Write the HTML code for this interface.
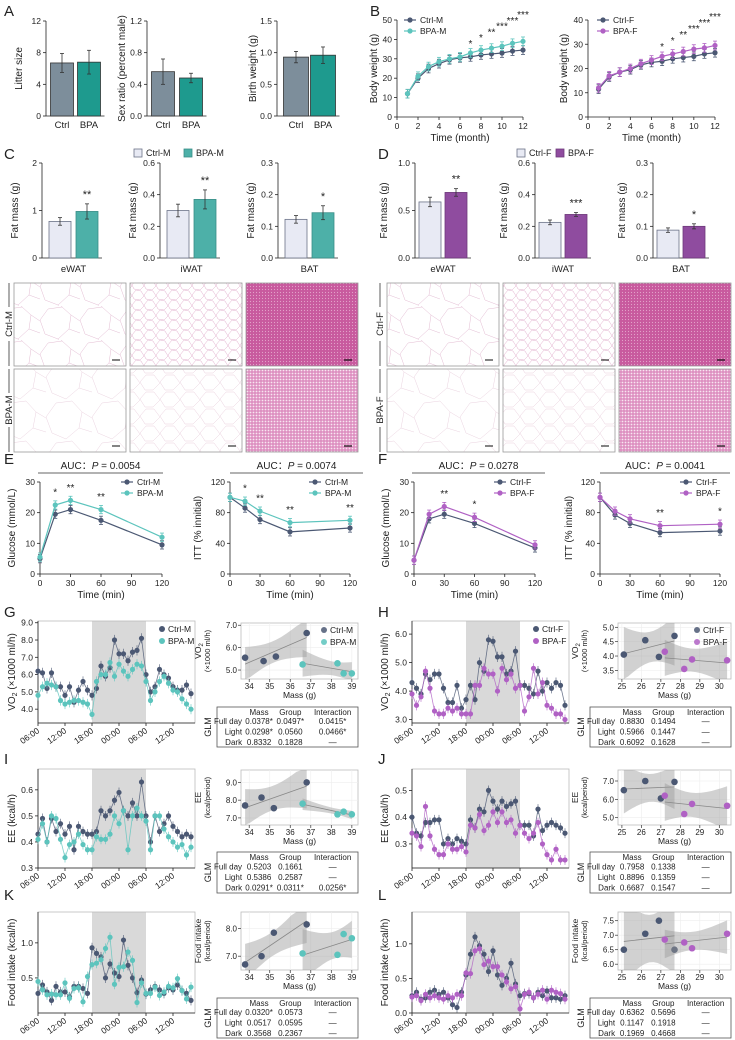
<!DOCTYPE html>
<html><head><meta charset="utf-8"><title>BPA figure</title>
<style>
html,body{margin:0;padding:0;background:#fff;}
svg{display:block;font-family:"Liberation Sans",Arial,sans-serif;}
</style></head>
<body>
<svg id="fig" width="735" height="1040" viewBox="0 0 735 1040" xmlns="http://www.w3.org/2000/svg">
<defs>
<pattern id="watA" width="40" height="34" patternUnits="userSpaceOnUse"><rect width="40" height="34" fill="#fff"/><path d="M0 14 L8 3 L22 1 L31 9 L40 15 M31 9 L29 23 L18 33 L5 28 L0 14 M29 23 L40 27 M22 1 L21 -2 M18 33 L19 36" fill="none" stroke="#e3bcd3" stroke-width="0.5"/></pattern>
<pattern id="watB" width="46" height="40" patternUnits="userSpaceOnUse"><rect width="46" height="40" fill="#fff"/><path d="M0 17 L10 3 L26 1 L36 12 L46 18 M36 12 L33 28 L20 39 L6 33 L0 17 M33 28 L46 32" fill="none" stroke="#ebd3e0" stroke-width="0.5"/></pattern>
<pattern id="iwatA" width="12" height="10" patternUnits="userSpaceOnUse"><rect width="12" height="10" fill="#fff"/><path d="M0 5 L4 0 L9 1 L12 6 L8 10 L2 9 Z" fill="none" stroke="#e2b0cd" stroke-width="0.5"/></pattern>
<pattern id="iwatB" width="20" height="17" patternUnits="userSpaceOnUse"><rect width="20" height="17" fill="#fff"/><path d="M0 8 L6 1 L14 1 L20 9 L13 16 L5 16 Z" fill="none" stroke="#ead0de" stroke-width="0.5"/></pattern>
<pattern id="batA" width="3" height="3" patternUnits="userSpaceOnUse"><rect width="3" height="3" fill="#c85a9e"/><circle cx="1.5" cy="1.5" r="0.6" fill="#e3a2c9"/></pattern>
<pattern id="batB" width="3" height="3" patternUnits="userSpaceOnUse"><rect width="3" height="3" fill="#dd8fc0"/><circle cx="1.5" cy="1.5" r="0.9" fill="#f8e6f1"/></pattern>
</defs>
</svg>
<script>
// ---------------- DATA ----------------
const A_cats=['Ctrl','BPA'];
const A1_vals=[6.7,6.8], A1_err=[1.2,1.5];
const A2_vals=[0.56,0.48], A2_err=[0.16,0.06];
const A3_vals=[0.93,0.96], A3_err=[0.09,0.13];
const B_months=[1,2,3,4,5,6,7,8,9,10,11,12];
const B1_ctrl=[12,20,25,27.5,29.5,30.5,31,32,32.5,33,34,34.5];
const B1_bpa=[12,21,26,28.5,30,31,33,34.5,35.5,36.5,38,39];
const B2_ctrl=[11.5,16.5,18.5,19.5,21.5,22.5,23,24,24.5,25,26,26.5];
const B2_bpa=[12,17,18.5,20,22,23.5,25,26,27,28,28.5,29.5];
const B_stars=['*','*','**','***','***','***'];
const C_vals=[[0.77,0.98],[0.30,0.37],[0.122,0.143]];
const C_err=[[0.08,0.16],[0.04,0.06],[0.012,0.022]];
const D_vals=[[0.59,0.69],[0.225,0.275],[0.088,0.10]];
const D_err=[[0.05,0.04],[0.015,0.012],[0.007,0.008]];
const C_stars=['**','**','*'], D_stars=['**','***','*'];
const fat_labels=['eWAT','iWAT','BAT'];
const E_times=[0,15,30,60,120];
const E1_ctrl=[5,19.5,21,17.5,9.5], E1_bpa=[5.5,22.5,24,21,12];
const E2_ctrl=[100,86,71,55,60], E2_bpa=[100,95,82,67,70];
const F1_ctrl=[4.5,18,19.5,16.5,8.5], F1_bpa=[4.5,19.5,22,18.5,9.5];
const F2_ctrl=[100,77,66,54,56], F2_bpa=[100,82,72,63,65];
const E1_stars=['','*','**','**',''], E2_stars=['','*','**','**','**'];
const F1_stars=['','','**','*',''], F2_stars=['','','','**','*'];
const auc_labels=['0.0054','0.0074','0.0278','0.0041'];
const ts_labels=['06:00','12:00','18:00','00:00','06:00','12:00'];
const G_ctrl=[6.2,6.1,5.2,6.1,5.3,5.3,4.8,5.3,4.4,5.1,5.6,5.1,4.8,5.2,6.5,5.9,6.4,8.0,7.2,7.2,6.8,7.3,7.4,8.1,6.0,5.0,5.3,6.3,6.0,5.8,5.3,5.1,5.1,5.4,4.9];
const G_bpa=[4.8,5.3,5.5,5.4,5.3,4.5,4.3,4.4,4.5,4.5,4.4,4.3,3.7,5.6,6.0,6.0,6.7,5.9,6.6,6.2,5.9,6.3,6.6,6.5,5.6,4.5,5.0,5.6,5.9,5.5,5.1,5.0,4.6,4.3,4.0];
const H_ctrl=[4.3,4.1,3.9,4.6,4.4,4.6,4.6,4.1,3.6,3.6,4.2,3.4,3.7,4.2,3.7,5.0,4.7,5.8,5.75,5.2,5.2,4.6,4.7,5.4,4.2,4.2,4.1,3.9,4.7,4.0,4.3,4.1,4.3,4.2,3.5];
const H_bpa=[3.9,3.5,3.8,4.7,4.1,3.3,3.2,3.2,3.4,3.3,3.4,3.2,3.2,3.2,4.2,4.2,4.8,4.6,4.6,4.0,4.8,4.4,4.6,4.1,4.2,3.3,3.8,4.8,3.9,4.3,3.5,3.4,3.2,3.2,3.0];
const I_ctrl=[0.43,0.49,0.40,0.49,0.44,0.47,0.43,0.46,0.37,0.46,0.44,0.43,0.43,0.44,0.52,0.50,0.52,0.56,0.59,0.52,0.50,0.55,0.50,0.63,0.50,0.40,0.50,0.44,0.47,0.50,0.46,0.44,0.42,0.43,0.42];
const I_bpa=[0.41,0.47,0.40,0.50,0.49,0.41,0.34,0.39,0.40,0.43,0.39,0.37,0.37,0.42,0.41,0.41,0.43,0.50,0.47,0.52,0.37,0.50,0.53,0.50,0.48,0.37,0.50,0.50,0.45,0.42,0.40,0.38,0.39,0.35,0.38];
const J_ctrl=[0.40,0.34,0.33,0.38,0.38,0.39,0.39,0.30,0.32,0.30,0.32,0.31,0.30,0.39,0.36,0.43,0.42,0.50,0.46,0.43,0.46,0.44,0.45,0.46,0.37,0.37,0.37,0.33,0.43,0.35,0.37,0.38,0.37,0.36,0.34];
const J_bpa=[0.34,0.33,0.29,0.44,0.33,0.28,0.26,0.26,0.30,0.28,0.28,0.29,0.27,0.37,0.36,0.41,0.35,0.37,0.42,0.38,0.42,0.38,0.39,0.34,0.37,0.34,0.32,0.34,0.38,0.30,0.26,0.24,0.28,0.24,0.24];
const K_ctrl=[0.28,0.40,0.30,0.18,0.38,0.30,0.30,0.23,0.38,0.38,0.35,0.28,0.93,0.85,0.80,0.50,0.70,0.57,0.52,1.04,0.68,0.50,0.29,0.47,0.27,0.33,0.38,0.33,0.28,0.36,0.33,0.40,0.32,0.28,0.18];
const K_bpa=[0.45,0.33,0.26,0.27,0.26,0.26,0.43,0.21,0.35,0.36,0.16,0.52,0.69,0.71,0.76,0.92,1.08,0.41,0.65,0.66,0.87,0.75,0.15,0.43,0.28,0.28,0.37,0.25,0.30,0.38,0.36,0.49,0.32,0.20,0.37];
const L_ctrl=[0.25,0.30,0.20,0.22,0.30,0.33,0.27,0.30,0.22,0.12,0.08,0.30,0.55,0.85,1.10,0.97,0.85,0.60,0.90,0.55,0.40,0.50,0.72,0.42,0.25,0.28,0.28,0.22,0.30,0.25,0.32,0.22,0.22,0.20,0.25];
const L_bpa=[0.23,0.25,0.18,0.27,0.22,0.25,0.22,0.20,0.25,0.22,0.27,0.25,0.58,0.57,0.90,0.93,0.70,0.75,0.67,0.67,0.55,0.45,0.35,0.38,0.06,0.27,0.30,0.22,0.27,0.33,0.20,0.33,0.30,0.28,0.20];
const SG_cx=[33.8,34.7,35.3,36.8], SG_cy=[5.55,5.4,5.6,6.65], SG_bx=[36.6,38.3,38.6,39.0], SG_by=[5.25,5.3,4.85,4.85];
const SH_cx=[25.1,26.2,26.9,27.7], SH_cy=[4.05,4.55,3.97,4.7], SH_bx=[27.2,28.2,28.6,30.4], SH_by=[4.15,3.55,3.88,3.85];
const SI_cx=[33.8,34.6,35.2,36.8], SI_cy=[7.7,8.15,7.55,9.0], SI_bx=[36.6,38.3,38.6,39.0], SI_by=[7.8,7.2,7.35,7.2];
const SJ_cx=[25.1,26.2,27.0,27.7], SJ_cy=[6.5,7.0,6.05,6.95], SJ_bx=[27.2,28.2,28.6,30.4], SJ_by=[6.2,5.2,5.75,5.65];
const SK_cx=[33.8,34.6,35.2,36.8], SK_cy=[6.7,7.0,7.85,8.15], SK_bx=[36.6,38.3,38.6,39.0], SK_by=[7.1,7.05,7.8,7.65];
const SL_cx=[25.1,26.2,26.9,27.7], SL_cy=[6.5,7.05,7.5,6.5], SL_bx=[27.2,28.2,28.6,30.4], SL_by=[6.85,6.75,6.55,7.05];
const TG=[['Full day','0.0378*','0.0497*','0.0415*'],['Light','0.0298*','0.0560','0.0466*'],['Dark','0.8332','0.1828','—']];
const TH=[['Full day','0.8830','0.1494','—'],['Light','0.5966','0.1447','—'],['Dark','0.6092','0.1628','—']];
const TI=[['Full day','0.5203','0.1661','—'],['Light','0.5386','0.2587','—'],['Dark','0.0291*','0.0311*','0.0256*']];
const TJ=[['Full day','0.7958','0.1338','—'],['Light','0.8896','0.1359','—'],['Dark','0.6687','0.1547','—']];
const TK=[['Full day','0.0320*','0.0573','—'],['Light','0.0517','0.0595','—'],['Dark','0.3568','0.2367','—']];
const TL=[['Full day','0.6362','0.5696','—'],['Light','0.1147','0.1918','—'],['Dark','0.1969','0.4668','—']];

// ---------------- HELPERS ----------------
const NS='http://www.w3.org/2000/svg';
const svg=document.getElementById('fig');
const CN='#4b5873', CM='#5cc4bd', CF='#b061c4';
function mk(tag,attrs,name){
  const el=document.createElementNS(NS,tag);
  for(const k in attrs) el.setAttribute(k,attrs[k]);
  
  
  svg.appendChild(el); return el;
}
function tx(x,y,s,size,anchor,name,rot,fill,weight){
  const a={x:x,y:y,'font-size':size,'text-anchor':anchor||'middle',fill:fill||'#222'};
  if(rot) a.transform='rotate('+rot+' '+x+' '+y+')';
  if(weight) a['font-weight']=weight;
  const t=mk('text',a,name); t.textContent=s; return t;
}
function ln(x1,y1,x2,y2,st,w,name){return mk('line',{x1:x1,y1:y1,x2:x2,y2:y2,stroke:st||'#222','stroke-width':w||0.8},name);}
function lin(d0,d1,r0,r1){return v=>r0+(v-d0)*(r1-r0)/(d1-d0);}
function letter(x,y,s){tx(x,y,s,15,'start','panel-label-'+s.toLowerCase());}
function yAxis(ax,ys,yT,yB,ticks,dec,name){
  ln(ax,yT,ax,yB,'#222',0.8,name+'-y-axis');
  ticks.forEach(t=>{const y=ys(t);ln(ax-3,y,ax,y,'#222',0.8,name+'-y-tick');
    tx(ax-5,y+3,t.toFixed(dec),8.5,'end',name+'-y-tick-label');});
}
function ebar(x,y1,y2,col,name){ln(x,y1,x,y2,col,0.8,name);ln(x-2,y1,x+2,y1,col,0.8,name+'-cap');ln(x-2,y2,x+2,y2,col,0.8,name+'-cap');}

// ---------------- BAR PANELS ----------------
function barPanel(p){
  const ys=lin(0,p.max,p.yB,p.yT);
  yAxis(p.ax,ys,p.yT,p.yB,p.ticks,p.dec,p.name);
  ln(p.ax,p.yB,p.cx[1]+p.w/2+4,p.yB,'#222',0.8,p.name+'-x-axis');
  p.vals.forEach((v,i)=>{
    mk('rect',{x:p.cx[i]-p.w/2,y:ys(v),width:p.w,height:p.yB-ys(v),fill:p.fills[i],stroke:p.strokes[i],'stroke-width':0.8},p.name+'-bar-'+i);
    ebar(p.cx[i],ys(v+p.err[i]),ys(Math.max(0,v-p.err[i])),'#333',p.name+'-error-bar');
    if(p.xl) tx(p.cx[i],p.yB+12,p.xl[i],9.5,'middle',p.name+'-x-label');
  });
  if(p.star) tx(p.cx[1],ys(p.vals[1]+p.err[1])-6,p.star,11,'middle',p.name+'-significance');
  if(p.cat) tx((p.cx[0]+p.cx[1])/2,p.yB+14,p.cat,9.5,'middle',p.name+'-category');
  tx(p.ylx,(p.yT+p.yB)/2,p.ylab,10,'middle',p.name+'-y-title',-90);
}
letter(4,16,'A');
barPanel({name:'litter',ax:46,yT:21,yB:116,max:12,ticks:[0,4,8,12],dec:0,vals:A1_vals,err:A1_err,cx:[62,89],w:23,fills:['#7d8e9b','#1e9a8e'],strokes:['#333','#333'],xl:A_cats,ylab:'Litter size',ylx:22});
barPanel({name:'sex-ratio',ax:147,yT:21,yB:116,max:1.2,ticks:[0,0.4,0.8,1.2],dec:1,vals:A2_vals,err:A2_err,cx:[163,191],w:23,fills:['#7d8e9b','#1e9a8e'],strokes:['#333','#333'],xl:A_cats,ylab:'Sex ratio (percent male)',ylx:125});
barPanel({name:'birth-weight',ax:277,yT:21,yB:116,max:1.5,ticks:[0,0.5,1.0,1.5],dec:1,vals:A3_vals,err:A3_err,cx:[296,323],w:25,fills:['#7d8e9b','#1e9a8e'],strokes:['#333','#333'],xl:A_cats,ylab:'Birth weight (g)',ylx:256});

letter(4,159,'C'); letter(378,159,'D');
function legBox(x,y,fill,stroke,label,name){mk('rect',{x:x,y:y-7,width:8,height:8,fill:fill,stroke:stroke,'stroke-width':0.8},name+'-swatch');tx(x+12,y,label,9,'start',name+'-text');}
legBox(134,156,'#e8eaf4','#6b7388','Ctrl-M','legend-ctrl-m'); legBox(184,156,'#4db0a8','#3a8f88','BPA-M','legend-bpa-m');
legBox(517,156,'#e8eaf4','#6b7388','Ctrl-F','legend-ctrl-f'); legBox(556,156,'#8f4c9f','#6e3a7b','BPA-F','legend-bpa-f');
const cMax=[2,0.6,0.3], cTicks=[[0,1,2],[0,0.2,0.4,0.6],[0,0.1,0.2,0.3]], cDec=[0,1,1];
const dMax=[1.0,0.6,0.3], dTicks=[[0,0.5,1.0],[0,0.2,0.4,0.6],[0,0.1,0.2,0.3]];
const cAx=[42,160,278], dAx=[415,535,653];
for(let i=0;i<3;i++){
  barPanel({name:'fat-m-'+fat_labels[i].toLowerCase(),ax:cAx[i],yT:163,yB:258,max:cMax[i],ticks:cTicks[i],dec:cDec[i],vals:C_vals[i],err:C_err[i],cx:[cAx[i]+18,cAx[i]+45],w:22,fills:['#e8eaf4','#4db0a8'],strokes:['#6b7388','#3a8f88'],star:C_stars[i],cat:fat_labels[i],ylab:'Fat mass (g)',ylx:cAx[i]-24});
  barPanel({name:'fat-f-'+fat_labels[i].toLowerCase(),ax:dAx[i],yT:163,yB:258,max:dMax[i],ticks:dTicks[i],dec:1,vals:D_vals[i],err:D_err[i],cx:[dAx[i]+15,dAx[i]+41],w:22,fills:['#e8eaf4','#8f4c9f'],strokes:['#6b7388','#6e3a7b'],star:D_stars[i],cat:fat_labels[i],ylab:'Fat mass (g)',ylx:dAx[i]-28});
}

// ---------------- LINE PANELS (B, E, F) ----------------
function linePanel(p){
  const xs=lin(p.x0,p.x1,p.ax,p.xr), ys=lin(0,p.max,p.yB,p.yT);
  yAxis(p.ax,ys,p.yT,p.yB,p.ticks,0,p.name);
  ln(p.ax,p.yB,p.xr,p.yB,'#222',0.8,p.name+'-x-axis');
  p.xticks.forEach(t=>{ln(xs(t),p.yB,xs(t),p.yB+3,'#222',0.8,p.name+'-x-tick');tx(xs(t),p.yB+12,String(t),8.5,'middle',p.name+'-x-tick-label');});
  tx((p.ax+p.xr)/2,p.yB+24,p.xlab,10,'middle',p.name+'-x-title');
  tx(p.ylx,(p.yT+p.yB)/2,p.ylab,10,'middle',p.name+'-y-title',-90);
  p.series.forEach((s,si)=>{
    const pts=s.v.map((v,i)=>xs(p.x[i])+','+ys(v)).join(' ');
    mk('polyline',{points:pts,fill:'none',stroke:s.c,'stroke-width':1.2},p.name+'-line-'+s.n);
    s.v.forEach((v,i)=>{const e=p.max*0.045;ebar(xs(p.x[i]),ys(v+e),ys(v-e),s.c,p.name+'-err');
      mk('circle',{cx:xs(p.x[i]),cy:ys(v),r:2.6,fill:s.c},p.name+'-point-'+s.n);});
    mk('line',{x1:p.lx,y1:p.ly+si*11,x2:p.lx+12,y2:p.ly+si*11,stroke:s.c,'stroke-width':1.2},p.name+'-legend-line');
    mk('circle',{cx:p.lx+6,cy:p.ly+si*11,r:2.6,fill:s.c},p.name+'-legend-marker');
    tx(p.lx+16,p.ly+si*11+3,s.n,8.5,'start',p.name+'-legend-text');
  });
  const top=p.series[1].v;
  p.stars.forEach((st,i)=>{ if(!st) return; const k=p.starY?p.starY(i):ys(Math.max(top[i],p.series[0].v[i])+p.max*0.06)-4;
    tx(xs(p.x[i]),k,st,10,'middle',p.name+'-significance');});
}
letter(370,16,'B');
const bStarIdx=[6,7,8,9,10,11];
linePanel({name:'bw-male',ax:397,xr:523,x0:0,x1:12,yT:20,yB:117,max:50,ticks:[0,10,20,30,40,50],xticks:[0,2,4,6,8,10,12],x:B_months,
  series:[{v:B1_ctrl,c:CN,n:'Ctrl-M'},{v:B1_bpa,c:CM,n:'BPA-M'}],stars:B1_ctrl.map((v,i)=>{const k=bStarIdx.indexOf(i);return k<0?'':B_stars[k];}),
  starY:i=>47-(i-6)*5.8,xlab:'Time (month)',ylab:'Body weight (g)',ylx:377,lx:404,ly:20});
linePanel({name:'bw-female',ax:588,xr:715,x0:0,x1:12,yT:20,yB:117,max:40,ticks:[0,10,20,30,40],xticks:[0,2,4,6,8,10,12],x:B_months,
  series:[{v:B2_ctrl,c:CN,n:'Ctrl-F'},{v:B2_bpa,c:CF,n:'BPA-F'}],stars:B2_ctrl.map((v,i)=>{const k=bStarIdx.indexOf(i);return k<0?'':B_stars[k];}),
  starY:i=>50-(i-6)*6,xlab:'Time (month)',ylab:'Body weight (g)',ylx:567,lx:597,ly:20});

// histology
letter(4,464,'E'); letter(378,464,'F');
const histX=[[14,130,246],[387,503,619]], histW=[112,112,112], histY=[283,369];
const histFill=[['url(#watA)','url(#iwatA)','url(#batA)'],['url(#watB)','url(#iwatB)','url(#batB)']];
const rowNames=[['Ctrl-M','BPA-M'],['Ctrl-F','BPA-F']];
for(let s=0;s<2;s++){
  for(let r=0;r<2;r++){
    for(let c=0;c<3;c++){
      const x=histX[s][c],y=histY[r];
      mk('rect',{x:x,y:y,width:histW[c],height:83,fill:histFill[r][c],stroke:'#999','stroke-width':0.8},'histology-'+rowNames[s][r].toLowerCase()+'-'+fat_labels[c].toLowerCase());
      ln(x+histW[c]-14,y+77,x+histW[c]-6,y+77,c==2?'#111':'#333',1.2,'scale-bar');
    }
    const lx=s==0?9:380, cy=histY[r]+41;
    tx(lx+3,cy,rowNames[s][r],9.5,'middle','row-label-'+rowNames[s][r].toLowerCase(),-90);
    ln(lx,histY[r],lx,cy-17,'#333',0.8,'row-bracket'); ln(lx,cy+17,lx,histY[r]+83,'#333',0.8,'row-bracket');
  }
}

// AUC headers
const aucX=[[38,163],[230,363],[412,545],[600,730]];
aucX.forEach((a,i)=>{ln(a[0],473,a[1],473,'#333',0.8,'auc-underline');
  const t=tx((a[0]+a[1])/2,469,'',10,'middle','auc-label');
  t.innerHTML='AUC：<tspan font-style="italic">P</tspan> = '+auc_labels[i];});
const eCommon={x0:0,x1:120,yT:482,yB:574,xticks:[0,30,60,90,120],x:E_times,xlab:'Time (min)'};
linePanel(Object.assign({},eCommon,{name:'gtt-male',ax:40,xr:162,max:30,ticks:[0,10,20,30],series:[{v:E1_ctrl,c:CN,n:'Ctrl-M'},{v:E1_bpa,c:CM,n:'BPA-M'}],stars:E1_stars,ylab:'Glucose (mmol/L)',ylx:15,lx:121,ly:482}));
linePanel(Object.assign({},eCommon,{name:'itt-male',ax:230,xr:350,max:120,ticks:[0,40,80,120],series:[{v:E2_ctrl,c:CN,n:'Ctrl-M'},{v:E2_bpa,c:CM,n:'BPA-M'}],stars:E2_stars,ylab:'ITT (% innitial)',ylx:201,lx:309,ly:482}));
linePanel(Object.assign({},eCommon,{name:'gtt-female',ax:414,xr:535,max:30,ticks:[0,10,20,30],series:[{v:F1_ctrl,c:CN,n:'Ctrl-F'},{v:F1_bpa,c:CF,n:'BPA-F'}],stars:F1_stars,ylab:'Glucose (mmol/L)',ylx:389,lx:494,ly:482}));
linePanel(Object.assign({},eCommon,{name:'itt-female',ax:600,xr:720,max:120,ticks:[0,40,80,120],series:[{v:F2_ctrl,c:CN,n:'Ctrl-F'},{v:F2_bpa,c:CF,n:'BPA-F'}],stars:F2_stars,ylab:'ITT (% innitial)',ylx:572,lx:680,ly:482}));

// ---------------- TIME SERIES ----------------
function tsPanel(p){
  const xs=i=>p.ax+i*4.5, ys=lin(p.d0,p.d1,p.yB,p.yT), right=p.ax+157;
  mk('rect',{x:xs(12),y:p.yT,width:xs(24)-xs(12),height:p.yB-p.yT,fill:'#d9d9d9'},p.name+'-dark-period');
  mk('rect',{x:p.ax,y:p.yT,width:right-p.ax,height:p.yB-p.yT,fill:'none',stroke:'#bbb','stroke-width':0.8},p.name+'-frame');
  yAxis(p.ax,ys,p.yT,p.yB,p.ticks,p.dec,p.name);
  ln(p.ax,p.yB,right,p.yB,'#222',0.8,p.name+'-x-axis');
  ts_labels.forEach((l,k)=>{const x=xs(k*6);ln(x,p.yB,x,p.yB+3,'#222',0.8,p.name+'-x-tick');
    tx(x+2,p.yB+9,l,8.5,'end',p.name+'-x-tick-label',-35);});
  const t=tx(p.ylx,(p.yT+p.yB)/2,'',10,'middle',p.name+'-y-title',-90); t.innerHTML=p.ylab;
  const e=(p.d1-p.d0)*0.05;
  p.series.forEach((s,si)=>{
    mk('polyline',{points:s.v.map((v,i)=>xs(i)+','+ys(v)).join(' '),fill:'none',stroke:s.c,'stroke-width':0.8,opacity:0.8},p.name+'-line-'+s.n);
    s.v.forEach((v,i)=>{ln(xs(i),ys(v+e),xs(i),ys(v-e),s.c,0.6,p.name+'-err');
      mk('circle',{cx:xs(i),cy:ys(v),r:2.6,fill:s.c},p.name+'-point-'+s.n);});
    if(p.leg){mk('circle',{cx:right-33,cy:p.yT+8+si*12,r:3,fill:s.c},p.name+'-legend-marker');
      tx(right-27,p.yT+11+si*12,s.n,8.5,'start',p.name+'-legend-text');}
  });
}
function fit(xa,ya){const n=xa.length,mx=xa.reduce((a,b)=>a+b)/n,my=ya.reduce((a,b)=>a+b)/n;
  let sxx=0,sxy=0;xa.forEach((x,i)=>{sxx+=(x-mx)*(x-mx);sxy+=(x-mx)*(ya[i]-my);});
  const b=sxy/sxx,a=my-b*mx;let ss=0;xa.forEach((x,i)=>{ss+=Math.pow(ya[i]-a-b*x,2);});
  return {a:a,b:b,mx:mx,sxx:sxx,se:Math.sqrt(ss/(n-2)),n:n};}
function scPanel(p){
  const xs=lin(p.xr[0],p.xr[1],p.bx0,p.bx1), ys=lin(p.yr[0],p.yr[1],p.by1,p.by0);
  mk('rect',{x:p.bx0,y:p.by0,width:p.bx1-p.bx0,height:p.by1-p.by0,fill:'#fff',stroke:'#bbb','stroke-width':0.8},p.name+'-frame');
  p.yt.forEach(t=>{ln(p.bx0,ys(t),p.bx1,ys(t),'#eee',0.6,p.name+'-grid');ln(p.bx0-3,ys(t),p.bx0,ys(t),'#333',0.7,p.name+'-y-tick');
    tx(p.bx0-4,ys(t)+3,t.toFixed(1),8,'end',p.name+'-y-tick-label');});
  p.xt.forEach(t=>{ln(xs(t),p.by0,xs(t),p.by1,'#eee',0.6,p.name+'-grid');ln(xs(t),p.by1,xs(t),p.by1+3,'#333',0.7,p.name+'-x-tick');
    tx(xs(t),p.by1+10,String(t),8,'middle',p.name+'-x-tick-label');});
  tx((p.bx0+p.bx1)/2,p.by1+19,'Mass (g)',8.5,'middle',p.name+'-x-title');
  p.groups.forEach((g,gi)=>{
    const f=fit(g.x,g.y), x0=Math.min(...g.x), x1=Math.max(...g.x), up=[], dn=[];
    for(let k=0;k<=12;k++){const x=x0+(x1-x0)*k/12, yh=f.a+f.b*x, w=2.8*f.se*Math.sqrt(1/f.n+Math.pow(x-f.mx,2)/f.sxx);
      const cl=v=>Math.max(p.yr[0],Math.min(p.yr[1],v));
      up.push(xs(x)+','+ys(cl(yh+w)));dn.unshift(xs(x)+','+ys(cl(yh-w)));}
    mk('polygon',{points:up.concat(dn).join(' '),fill:'#999',opacity:0.45},p.name+'-ci-band');
    mk('line',{x1:xs(x0),y1:ys(f.a+f.b*x0),x2:xs(x1),y2:ys(f.a+f.b*x1),stroke:'#888','stroke-width':0.8},p.name+'-fit-line');
    g.x.forEach((x,i)=>mk('circle',{cx:xs(x),cy:ys(g.y[i]),r:3.3,fill:g.c},p.name+'-point'));
    if(p.leg){mk('circle',{cx:p.bx1-34,cy:p.by0+7+gi*12,r:3,fill:g.c,opacity:0.85},p.name+'-legend-marker');
      tx(p.bx1-28,p.by0+10+gi*12,g.n,8.5,'start',p.name+'-legend-text');}
  });
  const t=tx(p.bx0-40,(p.by0+p.by1)/2,'',8.5,'middle',p.name+'-y-title',-90); t.innerHTML=p.ylab;
}
function table(x0,y0,x1,y1,rows,name){
  mk('rect',{x:x0,y:y0,width:x1-x0,height:y1-y0,fill:'#fff',stroke:'#555','stroke-width':0.8},name+'-frame');
  tx(x0-6,(y0+y1)/2,'GLM',9,'middle',name+'-glm-label',-90);
  const w=x1-x0, cx=[x0+w*0.27,x0+w*0.52,x0+w*0.82], rh=(y1-y0-9)/3;
  ['Mass','Group','Interaction'].forEach((h,i)=>tx(cx[i]+(i==0?4:0),y0+8,h,8,'middle',name+'-header'));
  rows.forEach((r,ri)=>{const y=y0+9+rh*(ri+0.5)+3;
    tx(x0+w*0.27-13,y,r[0],8,'end',name+'-row-label');
    for(let c=1;c<4;c++) tx(cx[c-1]+(c==1?4:0),y,r[c],8,'middle',name+'-cell');});
}
const blocks=[
 {L:'G',R:'H',ly:617,yT:621,yB:723,sb:[623,679],tb:[707,747],
  left:{d0:3.2,d1:9.1,ticks:[4,5,6,7,8,9],dec:1,c:G_ctrl,b:G_bpa,ylab:'VO<tspan font-size="7" dy="2">2</tspan><tspan dy="-2"> (×1000 ml/h)</tspan>'},
  right:{d0:2.88,d1:6.46,ticks:[3,4,5,6],dec:1,c:H_ctrl,b:H_bpa},
  sL:{xr:[33.6,39.3],yr:[4.6,7.1],xt:[34,35,36,37,38,39],yt:[5,6,7],cx:SG_cx,cy:SG_cy,bx:SG_bx,by:SG_by},
  sR:{xr:[24.8,30.6],yr:[3.2,5.15],xt:[25,26,27,28,29,30],yt:[3.5,4,4.5,5],cx:SH_cx,cy:SH_cy,bx:SH_bx,by:SH_by},
  tL:TG,tR:TH,leg:true},
 {L:'I',R:'J',ly:764,yT:769,yB:868,sb:[770,825],tb:[852,893],
  left:{d0:0.3,d1:0.68,ticks:[0.3,0.4,0.5,0.6],dec:1,c:I_ctrl,b:I_bpa,ylab:'EE (kcal/h)'},
  right:{d0:0.21,d1:0.58,ticks:[0.3,0.4,0.5],dec:1,c:J_ctrl,b:J_bpa},
  sL:{xr:[33.6,39.3],yr:[6.6,9.7],xt:[34,35,36,37,38,39],yt:[7,8,9],cx:SI_cx,cy:SI_cy,bx:SI_bx,by:SI_by},
  sR:{xr:[24.8,30.6],yr:[4.6,7.6],xt:[25,26,27,28,29,30],yt:[5,6,7],cx:SJ_cx,cy:SJ_cy,bx:SJ_bx,by:SJ_by},
  tL:TI,tR:TJ,leg:false},
 {L:'K',R:'L',ly:900,yT:912,yB:1013,sb:[912,970],tb:[998,1038],
  left:{d0:0,d1:1.44,ticks:[0.5,1.0],dec:1,c:K_ctrl,b:K_bpa,ylab:'Food intake (kcal/h)'},
  right:{d0:0,d1:1.46,ticks:[0,0.5,1.0],dec:1,c:L_ctrl,b:L_bpa},
  sL:{xr:[33.6,39.3],yr:[6.5,8.6],xt:[34,35,36,37,38,39],yt:[7,8],cx:SK_cx,cy:SK_cy,bx:SK_bx,by:SK_by},
  sR:{xr:[24.8,30.6],yr:[5.8,7.8],xt:[25,26,27,28,29,30],yt:[6,6.5,7,7.5],cx:SL_cx,cy:SL_cy,bx:SL_bx,by:SL_by},
  tL:TK,tR:TL,leg:false}
];
const sYlab={G:['VO<tspan font-size="6" dy="2">2</tspan>','(×1000 ml/h)'],I:['EE','(kcal/period)'],K:['Food intake','(kcal/period)']};
blocks.forEach(B=>{
  letter(4,B.ly,B.L); letter(378,B.ly,B.R);
  const yl=B.left.ylab;
  tsPanel({name:'ts-'+B.L.toLowerCase(),ax:38,yT:B.yT,yB:B.yB,d0:B.left.d0,d1:B.left.d1,ticks:B.left.ticks,dec:B.left.dec,ylab:yl,ylx:15,leg:B.leg,
    series:[{v:B.left.c,c:CN,n:'Ctrl-M'},{v:B.left.b,c:CM,n:'BPA-M'}]});
  tsPanel({name:'ts-'+B.R.toLowerCase(),ax:412,yT:B.yT,yB:B.yB,d0:B.right.d0,d1:B.right.d1,ticks:B.right.ticks,dec:B.right.dec,ylab:yl,ylx:388,leg:B.leg,
    series:[{v:B.right.c,c:CN,n:'Ctrl-F'},{v:B.right.b,c:CF,n:'BPA-F'}]});
  const s=sYlab[B.L];
  scPanel({name:'scatter-'+B.L.toLowerCase(),bx0:241,bx1:358,by0:B.sb[0],by1:B.sb[1],xr:B.sL.xr,yr:B.sL.yr,xt:B.sL.xt,yt:B.sL.yt,leg:B.leg,ylab:s[0],
    groups:[{x:B.sL.cx,y:B.sL.cy,c:CN,n:'Ctrl-M'},{x:B.sL.bx,y:B.sL.by,c:CM,n:'BPA-M'}]});
  scPanel({name:'scatter-'+B.R.toLowerCase(),bx0:618,bx1:731,by0:B.sb[0],by1:B.sb[1],xr:B.sR.xr,yr:B.sR.yr,xt:B.sR.xt,yt:B.sR.yt,leg:B.leg,ylab:s[0],
    groups:[{x:B.sR.cx,y:B.sR.cy,c:CN,n:'Ctrl-F'},{x:B.sR.bx,y:B.sR.by,c:CF,n:'BPA-F'}]});
  tx(241-31,(B.sb[0]+B.sb[1])/2,s[1],7.5,'middle','scatter-'+B.L.toLowerCase()+'-y-subtitle',-90);
  tx(618-31,(B.sb[0]+B.sb[1])/2,s[1],7.5,'middle','scatter-'+B.R.toLowerCase()+'-y-subtitle',-90);
  table(217,B.tb[0],358,B.tb[1],B.tL,'glm-table-'+B.L.toLowerCase());
  table(590,B.tb[0],731,B.tb[1],B.tR,'glm-table-'+B.R.toLowerCase());
});
</script>
</body></html>
